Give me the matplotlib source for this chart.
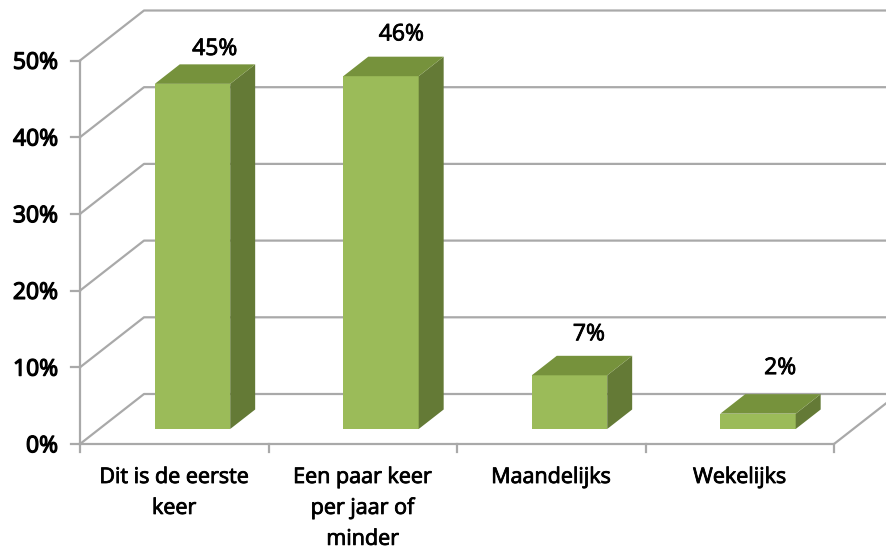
import matplotlib
matplotlib.use('Agg')
import matplotlib.pyplot as plt
import matplotlib.patheffects as pe
from matplotlib.patches import Polygon

categories = ['Dit is de eerste\nkeer', 'Een paar keer\nper jaar of\nminder', 'Maandelijks', 'Wekelijks']
values = [45, 46, 7, 2]
y_ticks = [0, 10, 20, 30, 40, 50]

# pixel scale of the picture
W, H = 886, 549
X0, Y0 = 80, 444
CAT_W, PCT_H = 188.5, 7.67

# depth of the walls in data units
DX = 64 / CAT_W
DY = 50 / PCT_H
BAR_W = 0.4
D0, D1 = 0.3, 0.69

GRID = '#A9A9A9'
FRONT = '#9BBB59'
TOP = '#76923C'
SIDE = '#647A36'
FONT = 'Open Sans'
# the reference text is a little heavier than regular
HEAVY = [pe.withStroke(linewidth=0.6, foreground='black')]
HEAVIER = [pe.withStroke(linewidth=0.9, foreground='black')]


def pt(x, y, d=0):
    return (x + d * DX, y + d * DY)


fig = plt.figure(figsize=(W / 100, H / 100), dpi=100)
ax = fig.add_axes([0, 0, 1, 1])
ax.set_xlim(-X0 / CAT_W, (W - X0) / CAT_W)
ax.set_ylim((Y0 - H) / PCT_H, Y0 / PCT_H)
ax.axis('off')

n = len(categories)

# walls and grid
for v in y_ticks:
    ax.plot(*zip(pt(0, v), pt(0, v, 1), pt(n + 1, v, 1)), color=GRID, lw=1.6, zorder=1)
    ax.plot([-0.05, 0], [v, v], color=GRID, lw=1.6, zorder=1)
    ax.text(-22 / CAT_W, v - 0.3, f'{v}%', ha='right', va='center', fontsize=16.5,
            family=FONT, color='black', path_effects=HEAVIER)
ax.plot([0, 0], [0, y_ticks[-1]], color=GRID, lw=1.6, zorder=1)

# floor and x ticks
ax.plot(*zip(pt(0, 0), pt(n, 0), pt(n, 0, 1), pt(n + 1, 0, 1)), color=GRID, lw=1.6, zorder=1)
for i in range(n + 1):
    ax.plot([i, i], [0, -1], color=GRID, lw=1.6, zorder=1)

# bars
lifts = [2.0, 2.9, 2.8, 3.4]
nudges = [-0.02, -0.03, -0.035, -0.02]
for i, v in enumerate(values):
    x0 = i + 0.495 - BAR_W / 2
    x1 = x0 + BAR_W
    ax.add_patch(Polygon([pt(x0, 0, D0), pt(x1, 0, D0), pt(x1, v, D0), pt(x0, v, D0)],
                         fc=FRONT, ec='none', zorder=3))
    ax.add_patch(Polygon([pt(x1, 0, D0), pt(x1, 0, D1), pt(x1, v, D1), pt(x1, v, D0)],
                         fc=SIDE, ec='none', zorder=3))
    ax.add_patch(Polygon([pt(x0, v, D0), pt(x1, v, D0), pt(x1, v, D1), pt(x0, v, D1)],
                         fc=TOP, ec='none', zorder=3))
    lx, ly = pt(i + 0.5, v, D1)
    ax.text(lx + nudges[i], ly + lifts[i], f'{v}%', ha='center', va='center', fontsize=16.5,
            family=FONT, color='black', zorder=4, path_effects=HEAVY)

# category labels
for i, c in enumerate(categories):
    ax.text(i + 0.5, -3.0, c, ha='center', va='top', fontsize=15.5, family=FONT,
            color='black', linespacing=1.62, path_effects=HEAVY)

fig.savefig('out.png', dpi=100, facecolor='white')
